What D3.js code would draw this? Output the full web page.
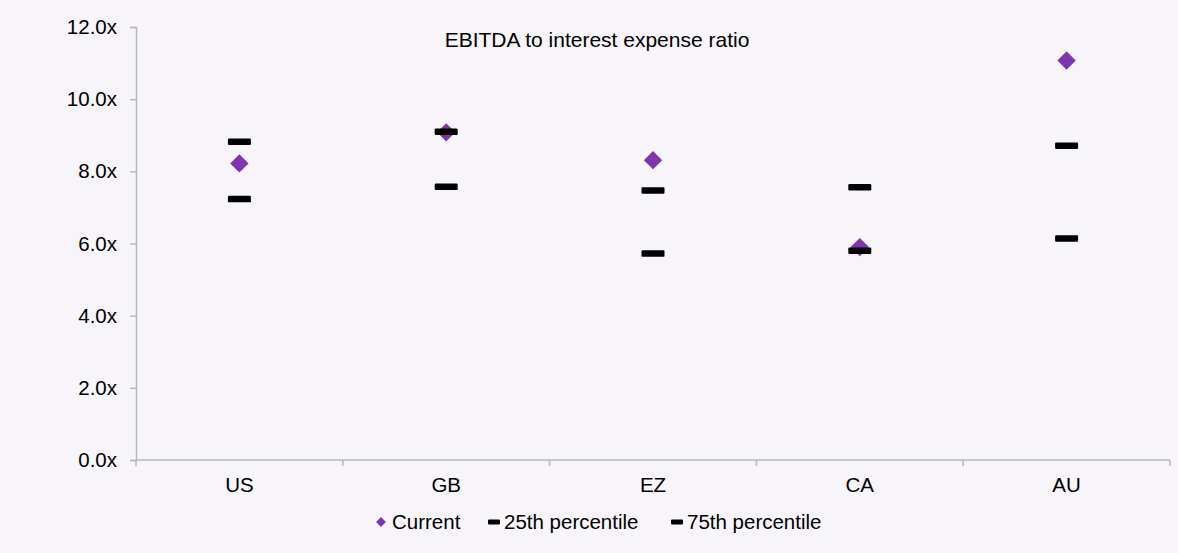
<!DOCTYPE html>
<html>
<head>
<meta charset="utf-8">
<script src="https://cdn.jsdelivr.net/npm/d3@7"></script>
<style>
  html, body { margin: 0; padding: 0; background: #f7f5fa; }
  svg { display: block; font-family: "Liberation Sans", Arial, sans-serif; }
</style>
</head>
<body>
<svg id="chart" width="1178" height="553"></svg>
<script>
// EBITDA to interest expense ratio by economy
const categories = ["US", "GB", "EZ", "CA", "AU"];
const current = [8.22, 9.08, 8.31, 5.90, 11.07];
const pct25 = [7.23, 7.57, 5.72, 5.80, 6.14];
const pct75 = [8.82, 9.10, 7.47, 7.56, 8.71];
const yTicks = [0, 2, 4, 6, 8, 10, 12];
const legendLabels = ["Current", "25th percentile", "75th percentile"];
const title = "EBITDA to interest expense ratio";

const W = 1178, H = 553;
const margin = { left: 136, right: 8, top: 27, bottom: 93 };
const purple = "#7f35b2";
const axisColor = "#b8b8b8";
const fontSize = 20.5;

const svg = d3.select("#chart");

const x = d3.scaleBand()
  .domain(categories)
  .range([margin.left, W - margin.right])
  .padding(0);

const y = d3.scaleLinear()
  .domain([0, 12])
  .range([H - margin.bottom, margin.top]);

// Y axis
const yAxis = svg.append("g")
  .attr("transform", `translate(${margin.left},0)`)
  .call(d3.axisLeft(y).tickValues(yTicks).tickSize(6).tickPadding(13)
    .tickFormat(d => d3.format(".1f")(d) + "x"));
yAxis.select(".domain").attr("stroke", axisColor).attr("stroke-width", 1.5);
yAxis.selectAll(".tick line").attr("stroke", axisColor).attr("stroke-width", 1.5);
yAxis.selectAll(".tick text")
  .attr("font-size", fontSize).attr("fill", "#000")
  .attr("font-family", "Liberation Sans, Arial, sans-serif");

// X axis: baseline with boundary ticks between categories
const x0 = y(0);
const xg = svg.append("g");
xg.append("line")
  .attr("x1", margin.left).attr("x2", W - margin.right)
  .attr("y1", x0).attr("y2", x0)
  .attr("stroke", axisColor).attr("stroke-width", 1.5);
const bounds = categories.map(c => x(c)).concat([x.range()[1]]);
xg.selectAll("line.tk").data(bounds).join("line")
  .attr("class", "tk")
  .attr("x1", d => d).attr("x2", d => d)
  .attr("y1", x0).attr("y2", x0 + 6)
  .attr("stroke", axisColor).attr("stroke-width", 1.5);
xg.selectAll("text").data(categories).join("text")
  .attr("x", d => x(d) + x.bandwidth() / 2)
  .attr("y", x0 + 32)
  .attr("text-anchor", "middle")
  .attr("font-size", fontSize)
  .text(d => d);

// Title
svg.append("text")
  .attr("x", 597).attr("y", 47)
  .attr("text-anchor", "middle")
  .attr("font-size", 21)
  .text(title);

const cx = c => x(c) + x.bandwidth() / 2;
const dashW = 23, dashH = 6.5;
const diamond = d3.symbol().type(d3.symbolDiamond2).size(215);

// Current values: diamonds
svg.append("g").selectAll("path")
  .data(categories.map((c, i) => ({ c, v: current[i] })))
  .join("path")
  .attr("d", diamond)
  .attr("transform", d => `translate(${cx(d.c)},${y(d.v)}) rotate(0)`)
  .attr("fill", purple);

// Percentile dashes
function dashes(vals) {
  svg.append("g").selectAll("rect")
    .data(categories.map((c, i) => ({ c, v: vals[i] })))
    .join("rect")
    .attr("x", d => cx(d.c) - dashW / 2)
    .attr("y", d => y(d.v) - dashH / 2)
    .attr("width", dashW).attr("height", dashH)
    .attr("rx", 1.2)
    .attr("fill", "#000");
}
dashes(pct25);
dashes(pct75);

// Legend
const legendY = 522;
const lg = svg.append("g");
const markerX = [381, 494, 677];
const textX = [392, 504, 687];
legendLabels.forEach((lab, i) => {
  if (i === 0) {
    lg.append("path")
      .attr("d", d3.symbol().type(d3.symbolDiamond2).size(62))
      .attr("transform", `translate(${markerX[i]},${legendY})`)
      .attr("fill", purple);
  } else {
    lg.append("rect")
      .attr("x", markerX[i] - 6).attr("y", legendY - 2.5)
      .attr("width", 12).attr("height", 5)
      .attr("rx", 1)
      .attr("fill", "#000");
  }
  lg.append("text")
    .attr("x", textX[i]).attr("y", legendY + 7)
    .attr("font-size", fontSize)
    .text(lab);
});
</script>
</body>
</html>
